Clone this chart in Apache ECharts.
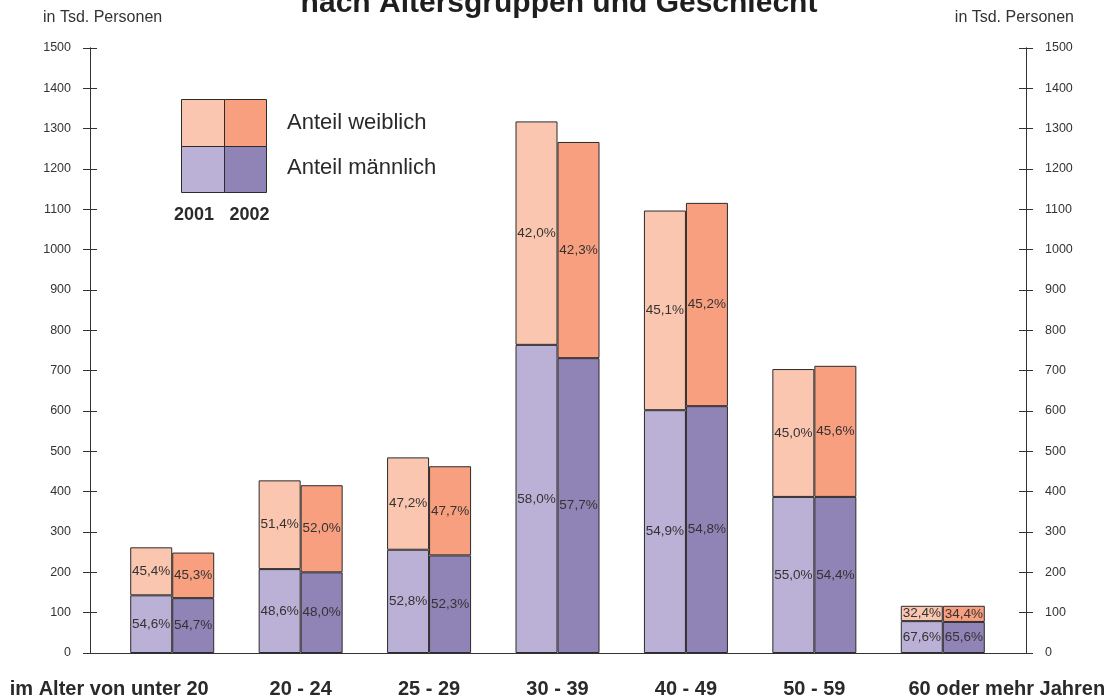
<!DOCTYPE html>
<html>
<head>
<meta charset="utf-8">
<script src="https://cdn.jsdelivr.net/npm/echarts@6/dist/echarts.min.js"></script>
<style>
html,body{margin:0;padding:0;background:#fff;}
#chart{width:1109px;height:699px;}
</style>
</head>
<body>
<div id="chart"></div>
<script>
// ---- data (in Tsd. Personen) ----
var categories = ['im Alter von unter 20', '20 - 24', '25 - 29', '30 - 39', '40 - 49', '50 - 59', '60 oder mehr Jahren'];
var male2001   = [143, 208, 256, 764, 602, 387, 79];
var female2001 = [119, 220, 229, 554, 495, 317, 38];
var male2002   = [136, 200, 242, 731, 612, 387, 77];
var female2002 = [113, 216, 221, 536, 504, 325, 40];
var malePct2001   = ['54,6', '48,6', '52,8', '58,0', '54,9', '55,0', '67,6'];
var femalePct2001 = ['45,4', '51,4', '47,2', '42,0', '45,1', '45,0', '32,4'];
var malePct2002   = ['54,7', '48,0', '52,3', '57,7', '54,8', '54,4', '65,6'];
var femalePct2002 = ['45,3', '52,0', '47,7', '42,3', '45,2', '45,6', '34,4'];
var yTicks = { min: 0, max: 1500, interval: 100 };
var unitLabel = 'in Tsd. Personen';
var titleText = 'nach Altersgruppen und Geschlecht';
var legendLabels = ['Anteil weiblich', 'Anteil männlich'];
var legendYears = ['2001', '2002'];

var FONT = "'Liberation Sans', Arial, sans-serif";
var colF1 = '#FBC6AF', colF2 = '#F89F7F', colM1 = '#BBB0D5', colM2 = '#9084B6';
var axisCol = '#333';
var txtCol = '#2a2a2a';

var chart = echarts.init(document.getElementById('chart'), null, { renderer: 'canvas' });

function yAx(pos, inside, showLabel) {
  return {
    type: 'value', gridIndex: 0, position: pos,
    min: yTicks.min, max: yTicks.max, interval: yTicks.interval,
    axisLine: { show: true, lineStyle: { color: axisCol, width: 1 } },
    axisTick: { show: true, inside: inside, length: 7, lineStyle: { color: axisCol, width: 1 } },
    axisLabel: { show: showLabel, margin: 19, color: '#333', fontSize: 12.5, fontFamily: FONT,
      formatter: function (v) { return String(v); } },
    splitLine: { show: false }
  };
}

function pctLabel(arr) {
  return {
    show: true, position: 'inside', color: '#333', fontSize: 13.5, fontFamily: FONT,
    formatter: function (p) { return arr[p.dataIndex] + '%'; }
  };
}

function barSeries(name, stack, data, color, labels) {
  return {
    name: name, type: 'bar', stack: stack, xAxisIndex: 1, yAxisIndex: 4,
    barWidth: 42, barGap: '0%',
    data: data,
    itemStyle: { color: color, borderColor: '#2b2b2b', borderWidth: 1 },
    label: pctLabel(labels),
    emphasis: { disabled: true },
    silent: true
  };
}

var option = {
  animation: false,
  backgroundColor: '#ffffff',
  grid: [
    { left: 90, right: 83, top: 48, bottom: 46 },
    { left: 108, right: 102, top: 48, bottom: 46 }
  ],
  xAxis: [
    {
      type: 'value', gridIndex: 0, min: 0, max: 1,
      axisLine: { show: true, lineStyle: { color: axisCol, width: 1 } },
      axisTick: { show: false }, axisLabel: { show: false }, splitLine: { show: false }
    },
    {
      type: 'category', gridIndex: 1, data: categories,
      axisLine: { show: false }, axisTick: { show: false }, splitLine: { show: false },
      axisLabel: {
        interval: 0, margin: 26, color: txtCol, fontSize: 20, fontWeight: 'bold', fontFamily: FONT,
        formatter: function (v, i) {
          if (i === 0) return '{first|' + v + '}';
          if (i === categories.length - 1) return '{last|' + v + '}';
          return v;
        },
        rich: {
          first: { fontSize: 20, fontWeight: 'bold', fontFamily: FONT, color: txtCol, padding: [0, 126, 0, 0] },
          last: { fontSize: 20, fontWeight: 'bold', fontFamily: FONT, color: txtCol, padding: [0, 0, 0, 128] }
        }
      }
    }
  ],
  yAxis: [
    yAx('left', false, true),
    yAx('left', true, false),
    yAx('right', false, true),
    yAx('right', true, false),
    { type: 'value', gridIndex: 1, min: yTicks.min, max: yTicks.max, show: false }
  ],
  series: [
    barSeries('männlich 2001', 'y2001', male2001, colM1, malePct2001),
    barSeries('weiblich 2001', 'y2001', female2001, colF1, femalePct2001),
    barSeries('männlich 2002', 'y2002', male2002, colM2, malePct2002),
    barSeries('weiblich 2002', 'y2002', female2002, colF2, femalePct2002)
  ],
  graphic: [
    { type: 'text', x: 559, y: 4, style: { text: titleText, font: 'bold 30px ' + FONT, fill: '#1e1e1e', align: 'center', verticalAlign: 'middle', textAlign: 'center', textVerticalAlign: 'middle' } },
    { type: 'text', x: 43, y: 18, style: { text: unitLabel, font: '16px ' + FONT, fill: '#333', align: 'left', verticalAlign: 'middle', textAlign: 'left', textVerticalAlign: 'middle' } },
    { type: 'text', x: 1074, y: 18, style: { text: unitLabel, font: '16px ' + FONT, fill: '#333', align: 'right', verticalAlign: 'middle', textAlign: 'right', textVerticalAlign: 'middle' } },
    { type: 'rect', shape: { x: 181.5, y: 99.5, width: 43, height: 47 }, style: { fill: colF1, stroke: '#2b2b2b', lineWidth: 1 } },
    { type: 'rect', shape: { x: 224.5, y: 99.5, width: 42, height: 47 }, style: { fill: colF2, stroke: '#2b2b2b', lineWidth: 1 } },
    { type: 'rect', shape: { x: 181.5, y: 146.5, width: 43, height: 46 }, style: { fill: colM1, stroke: '#2b2b2b', lineWidth: 1 } },
    { type: 'rect', shape: { x: 224.5, y: 146.5, width: 42, height: 46 }, style: { fill: colM2, stroke: '#2b2b2b', lineWidth: 1 } },
    { type: 'text', x: 287, y: 123, style: { text: legendLabels[0], font: '22px ' + FONT, fill: txtCol, align: 'left', verticalAlign: 'middle', textAlign: 'left', textVerticalAlign: 'middle' } },
    { type: 'text', x: 287, y: 168, style: { text: legendLabels[1], font: '22px ' + FONT, fill: txtCol, align: 'left', verticalAlign: 'middle', textAlign: 'left', textVerticalAlign: 'middle' } },
    { type: 'text', x: 194, y: 215, style: { text: legendYears[0], font: 'bold 18px ' + FONT, fill: txtCol, align: 'center', verticalAlign: 'middle', textAlign: 'center', textVerticalAlign: 'middle' } },
    { type: 'text', x: 249.5, y: 215, style: { text: legendYears[1], font: 'bold 18px ' + FONT, fill: txtCol, align: 'center', verticalAlign: 'middle', textAlign: 'center', textVerticalAlign: 'middle' } }
  ]
};
chart.setOption(option);
</script>
</body>
</html>
